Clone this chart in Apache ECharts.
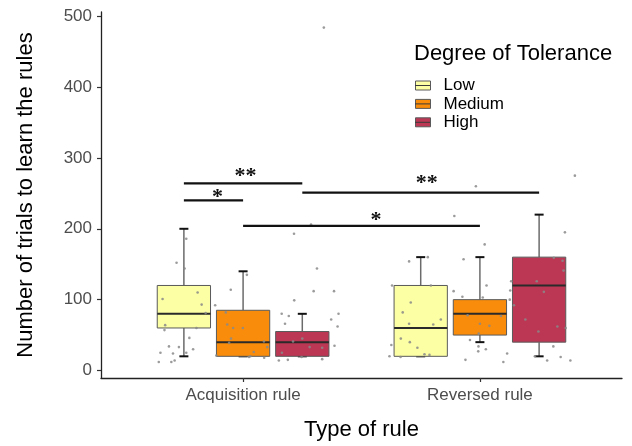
<!DOCTYPE html>
<html><head><meta charset="utf-8">
<script src="https://cdn.jsdelivr.net/npm/echarts@6/dist/echarts.min.js"></script>
<style>html,body{margin:0;padding:0;background:#fff}#c{width:632px;height:446px}</style>
</head><body><div id="c"></div>
<script>
// ---------- data ----------
const categories = ['Acquisition rule', 'Reversed rule'];
const groups = ['Low', 'Medium', 'High'];
const yTicks = [0, 100, 200, 300, 400, 500];
// box statistics per category: [lower whisker, Q1, median, Q3, upper whisker]
const lowStats = [[20, 60, 80, 120, 200], [20, 20, 60, 120, 160]];
const mediumStats = [[20, 20, 40, 85, 140], [40, 50, 80, 100, 160]];
const highStats = [[20, 20, 40, 55, 80], [20, 40, 120, 160, 220]];
// jittered raw observations: [x on axis (category 1/2 + jitter), value]
const lowPoints = [[0.760,186],[0.719,152],[0.753,144],[0.660,101],[0.808,110],[0.825,93],[0.842,81],[0.882,92],[0.671,64],[0.668,57],[0.803,60],[0.773,46],[0.687,34],[0.729,33],[0.651,25],[0.704,24],[0.760,25],[0.789,30],[0.644,12],[0.697,12],[0.711,14],
  [1.701,154],[1.780,160],[1.629,120],[1.793,120],[1.708,96],[1.674,82],[1.835,72],[1.701,66],[1.803,65],[1.666,45],[1.704,40],[1.626,36],[1.736,32],[1.766,23],[1.787,22],[1.618,20],[1.665,19]];
const mediumPoints = [[1.016,135],[0.948,114],[0.927,82],[0.933,65],[0.958,60],[0.999,60],[0.949,45],[0.941,39],[1.088,41],[1.102,33],[1.045,26],[1.025,19],[1.031,20],[1.089,18],[0.887,21],
  [1.892,218],[1.983,260],[2.020,178],[1.931,157],[2.028,120],[1.889,112],[1.926,104],[2.012,103],[1.948,78],[2.089,77],[2.000,66],[2.040,63],[1.995,52],[1.958,43],[1.994,34],[2.025,30],[1.993,27],[2.115,24],[1.939,15],[2.099,12]];
const highPoints = [[1.215,193],[1.312,144],[1.298,112],[1.384,112],[1.216,99],[1.163,80],[1.193,77],[1.403,80],[1.177,66],[1.372,72],[1.399,62],[1.211,41],[1.250,45],[1.164,25],[1.281,33],[1.334,32],[1.386,35],[1.151,14],[1.189,15],[1.247,19],[1.334,16],[1.287,206],[1.341,484],
  [2.401,275],[2.359,195],[2.312,159],[2.349,155],[2.353,141],[2.132,126],[2.240,126],[2.270,111],[2.144,92],[2.128,113],[2.192,72],[2.247,55],[2.327,62],[2.362,60],[2.310,34],[2.232,20],[2.284,14],[2.341,19],[2.382,14],[2.126,100]];
// significance brackets: [category A, group A, category B, group B, line value, label x, label value, label]
const sigLines = [
  [0, 'Low', 0, 'Medium', 240, 0.892, 249, '*'],
  [0, 'Low', 0, 'High', 264, 1.010, 279, '**'],
  [0, 'High', 1, 'High', 251, 1.776, 269, '**'],
  [0, 'Medium', 1, 'Medium', 204, 1.561, 216, '*']
];

// ---------- styling / layout ----------
const colors = {Low: '#FCFFA4', Medium: '#F98C0A', High: '#BC3754'};
const DODGE = 0.25, BOX_W = 0.225, CAP_PX = 4.5;
const FONT = '"Liberation Sans", Arial, sans-serif';
const statsByGroup = {Low: lowStats, Medium: mediumStats, High: highStats};
const pointsByGroup = {Low: lowPoints, Medium: mediumPoints, High: highPoints};
const xPos = (ci, g) => ci + 1 + (groups.indexOf(g) - 1) * DODGE;

function boxRender(params, api) {
  const x = api.value(0);
  const lo = api.value(1), q1 = api.value(2), med = api.value(3), q3 = api.value(4), hi = api.value(5);
  const color = api.visual('color');
  const tl = api.coord([x - BOX_W / 2, q3]);
  const br = api.coord([x + BOX_W / 2, q1]);
  const pHi = api.coord([x, hi]), pLo = api.coord([x, lo]);
  const pQ3 = api.coord([x, q3]), pQ1 = api.coord([x, q1]);
  const mL = api.coord([x - BOX_W / 2, med]), mR = api.coord([x + BOX_W / 2, med]);
  return {
    type: 'group',
    children: [
      {type: 'line', shape: {x1: pHi[0], y1: pHi[1], x2: pQ3[0], y2: pQ3[1]}, style: {stroke: '#6b6b6b', lineWidth: 1.5}},
      {type: 'line', shape: {x1: pLo[0], y1: pLo[1], x2: pQ1[0], y2: pQ1[1]}, style: {stroke: '#6b6b6b', lineWidth: 1.5}},
      {type: 'line', shape: {x1: pHi[0] - CAP_PX, y1: pHi[1], x2: pHi[0] + CAP_PX, y2: pHi[1]}, style: {stroke: '#111', lineWidth: 2}},
      {type: 'line', shape: {x1: pLo[0] - CAP_PX, y1: pLo[1], x2: pLo[0] + CAP_PX, y2: pLo[1]}, style: {stroke: '#111', lineWidth: 2}},
      {type: 'rect', shape: {x: tl[0], y: tl[1], width: br[0] - tl[0], height: br[1] - tl[1]}, style: {fill: color, stroke: '#5a5a5a', lineWidth: 1}},
      {type: 'line', shape: {x1: mL[0], y1: mL[1], x2: mR[0], y2: mR[1]}, style: {stroke: '#2a2a2a', lineWidth: 2}}
    ]
  };
}

function sigRender(params, api) {
  const a = api.coord([api.value(0), api.value(2)]);
  const b = api.coord([api.value(1), api.value(2)]);
  const t = api.coord([api.value(3), api.value(4)]);
  return {
    type: 'group',
    children: [
      {type: 'line', shape: {x1: a[0], y1: a[1], x2: b[0], y2: b[1]}, style: {stroke: '#111', lineWidth: 2.2}},
      {type: 'text', x: t[0], y: t[1] + 3, style: {text: sigLines[params.dataIndex][7], font: 'bold 22px "Liberation Serif", serif', fill: '#111', align: 'center', verticalAlign: 'middle'}}
    ]
  };
}

const series = [];
groups.forEach(g => {
  series.push({
    name: g, type: 'custom', renderItem: boxRender, z: 2,
    itemStyle: {color: colors[g], borderColor: '#5a5a5a', borderWidth: 1},
    encode: {x: 0, y: [1, 2, 3, 4, 5]},
    data: statsByGroup[g].map((s, ci) => [xPos(ci, g)].concat(s))
  });
});
groups.forEach(g => {
  series.push({
    name: g + ' points', type: 'scatter', z: 3, silent: true,
    symbolSize: 2.6, itemStyle: {color: '#8a8a8a', opacity: 0.85},
    data: pointsByGroup[g]
  });
});
series.push({
  name: 'significance', type: 'custom', renderItem: sigRender, z: 4,
  encode: {x: [0, 1, 3], y: [2, 4]},
  data: sigLines.map(s => [xPos(s[0], s[1]), xPos(s[2], s[3]), s[4], s[5], s[6]])
});

// legend key median strokes (decoration of legend icons)
const LEG_TOP = 77, LEG_ROW = 18.4, LEG_X = 415, LEG_W = 15;
const legendMarks = groups.map((g, i) => ({
  type: 'line', z: 100,
  shape: {x1: LEG_X, y1: LEG_TOP + 8.5 + i * LEG_ROW, x2: LEG_X + LEG_W, y2: LEG_TOP + 8.5 + i * LEG_ROW},
  style: {stroke: '#3a3a3a', lineWidth: 1}
}));

const chart = echarts.init(document.getElementById('c'), null, {renderer: 'canvas'});
chart.setOption({
  animation: false,
  backgroundColor: '#fff',
  grid: {left: 101, right: 10, top: 12, bottom: 68},
  graphic: [{type: 'text', x: 414, y: 54, style: {text: 'Degree of Tolerance', font: '22px ' + FONT, fill: '#000', verticalAlign: 'middle'}}].concat(legendMarks),
  legend: {
    data: groups, orient: 'vertical', left: LEG_X, top: LEG_TOP, icon: 'rect', padding: 0,
    itemWidth: LEG_W, itemHeight: 9, itemGap: 1.4,
    itemStyle: {borderColor: '#5a5a5a', borderWidth: 1},
    textStyle: {fontFamily: FONT, fontSize: 17, color: '#000', lineHeight: 17, padding: [0, 0, 0, 8]}
  },
  xAxis: {
    type: 'value', min: 0.4, max: 2.6,
    name: 'Type of rule', nameLocation: 'middle', nameGap: 41,
    nameTextStyle: {fontFamily: FONT, fontSize: 22, color: '#000'},
    axisLine: {show: true, onZero: false, lineStyle: {color: '#222', width: 1.3}},
    axisTick: {show: true, customValues: [1, 2], length: 4, lineStyle: {color: '#333', width: 1.2}},
    axisLabel: {customValues: [1, 2], formatter: v => categories[Math.round(v) - 1], fontFamily: FONT, fontSize: 17, color: '#4d4d4d', margin: 9},
    splitLine: {show: false}
  },
  yAxis: {
    type: 'value', min: -10.6, max: 506,
    name: 'Number of trials to learn the rules', nameLocation: 'middle', nameGap: 64, nameRotate: 90,
    nameTextStyle: {fontFamily: FONT, fontSize: 22, color: '#000'},
    axisLine: {show: true, onZero: false, lineStyle: {color: '#222', width: 1.3}},
    axisTick: {show: true, customValues: yTicks, length: 4, lineStyle: {color: '#333', width: 1.2}},
    axisLabel: {customValues: yTicks, fontFamily: FONT, fontSize: 17, color: '#4d4d4d', margin: 9},
    splitLine: {show: false}
  },
  series: series
});
</script>
</body></html>
